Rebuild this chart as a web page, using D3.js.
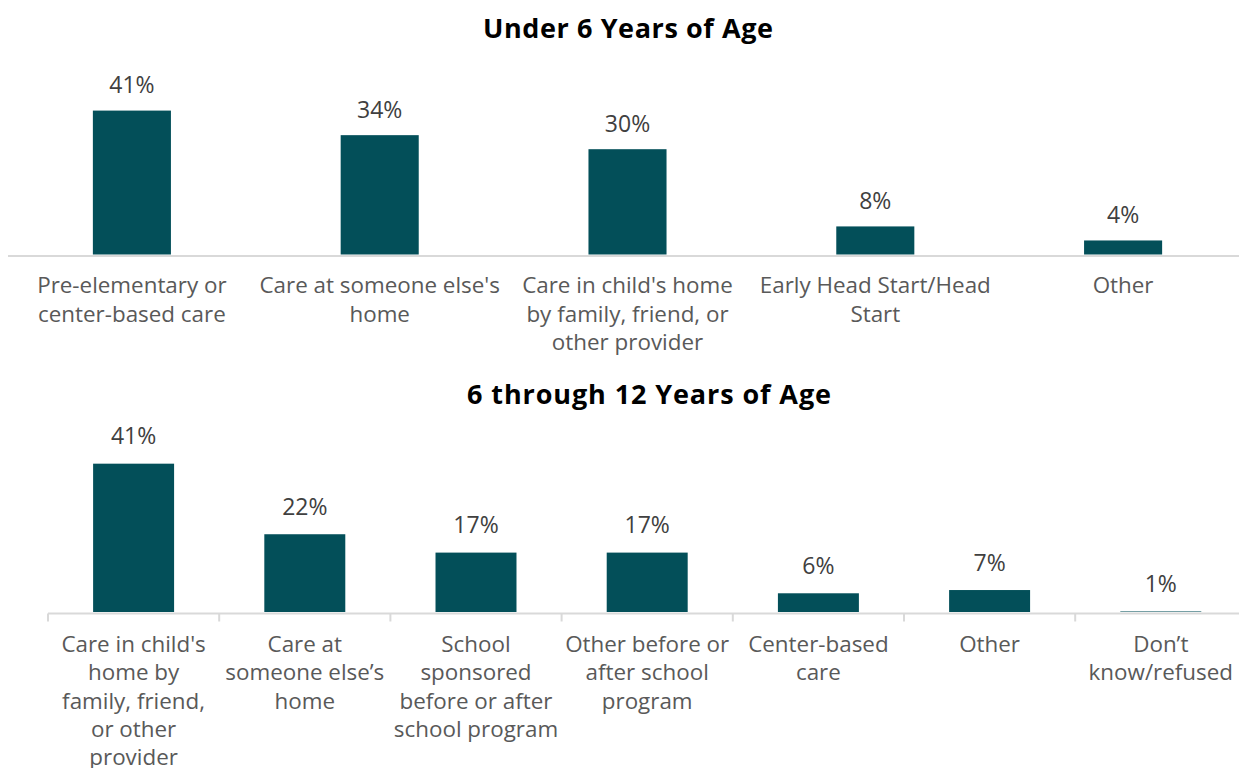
<!DOCTYPE html>
<html>
<head>
<meta charset="utf-8">
<script src="https://cdn.jsdelivr.net/npm/d3@7"></script>
<style>
  html, body { margin: 0; padding: 0; background: #fff; }
  svg { display: block; }
  text { font-family: "Open Sans", "Noto Sans", sans-serif; }
</style>
</head>
<body>
<svg id="chart" width="1239" height="768"></svg>
<script>
// ---- Data ----
const titleTop = "Under 6 Years of Age";
const categoriesTop = [
  "Pre-elementary or\ncenter-based care",
  "Care at someone else's\nhome",
  "Care in child's home\nby family, friend, or\nother provider",
  "Early Head Start/Head\nStart",
  "Other"
];
const valuesTop = [41, 34, 30, 8, 4];
const labelsTop = ["41%", "34%", "30%", "8%", "4%"];

const titleBottom = "6 through 12 Years of Age";
const categoriesBottom = [
  "Care in child's\nhome by\nfamily, friend,\nor other\nprovider",
  "Care at\nsomeone else\u2019s\nhome",
  "School\nsponsored\nbefore or after\nschool program",
  "Other before or\nafter school\nprogram",
  "Center-based\ncare",
  "Other",
  "Don\u2019t\nknow/refused"
];
const valuesBottom = [41.2, 21.6, 16.5, 16.5, 5.2, 6.1, 0.15];
const labelsBottom = ["41%", "22%", "17%", "17%", "6%", "7%", "1%"];

// ---- Drawing ----
const svg = d3.select("#chart");
const BAR = "#034f59";
const AXIS = "#d9d9d9";
const VAL = "#404040";
const CAT = "#595959";

function panel(opts) {
  const g = svg.append("g");
  const x = d3.scaleBand().domain(opts.categories).range(opts.xRange).padding(0);
  const y = d3.scaleLinear().domain([0, 45]).range([opts.base, opts.base - 45 * opts.k]);
  const bw = x.step() * opts.barFrac;

  g.append("text")
    .attr("x", opts.titleX).attr("y", opts.titleY)
    .attr("text-anchor", "middle")
    .attr("font-size", 27).attr("font-weight", "bold").attr("fill", "#000")
    .attr("textLength", opts.titleW).attr("lengthAdjust", "spacing")
    .text(opts.title);

  g.selectAll("rect.bar").data(opts.values).join("rect")
    .attr("class", "bar")
    .attr("x", (d, i) => x(opts.categories[i]) + x.bandwidth() / 2 - bw / 2)
    .attr("width", bw)
    .attr("y", d => y(d))
    .attr("height", d => y(0) - y(d))
    .attr("fill", BAR);

  g.selectAll("text.val").data(opts.values).join("text")
    .attr("class", "val")
    .attr("x", (d, i) => x(opts.categories[i]) + x.bandwidth() / 2)
    .attr("y", d => y(d) - opts.labelGap)
    .attr("text-anchor", "middle")
    .attr("font-size", 23).attr("fill", VAL)
    .text((d, i) => opts.labels[i]);

  // axis
  const axis = d3.axisBottom(x).tickSize(0).tickFormat("");
  const ag = g.append("g").attr("transform", `translate(0,${opts.axisY})`).call(axis);
  ag.select(".domain").remove();
  g.append("line")
    .attr("x1", opts.axisStart).attr("x2", 1239)
    .attr("y1", opts.axisY).attr("y2", opts.axisY)
    .attr("stroke", AXIS).attr("stroke-width", 2);
  if (opts.ticks) {
    const bounds = opts.categories.map(c => x(c));
    g.selectAll("line.tick").data(bounds).join("line")
      .attr("class", "tick")
      .attr("x1", d => d).attr("x2", d => d)
      .attr("y1", opts.axisY).attr("y2", opts.axisY + 8)
      .attr("stroke", AXIS).attr("stroke-width", 2);
  }

  const cl = g.selectAll("text.cat").data(opts.categories).join("text")
    .attr("class", "cat")
    .attr("text-anchor", "middle")
    .attr("font-size", 22.4).attr("fill", CAT);
  cl.each(function (c) {
    const t = d3.select(this);
    c.split("\n").forEach((line, j) => {
      t.append("tspan")
        .attr("x", x(c) + x.bandwidth() / 2)
        .attr("y", opts.catY + j * 28.4)
        .text(line);
    });
  });
}

panel({
  title: titleTop, titleX: 628, titleY: 37.5, titleW: 290,
  categories: categoriesTop, values: valuesTop, labels: labelsTop,
  xRange: [8, 1247], base: 254.5, k: 3.51, barFrac: 0.315, labelGap: 17.5,
  axisY: 256, axisStart: 8, ticks: false, catY: 293.3
});
panel({
  title: titleBottom, titleX: 649, titleY: 403.5, titleW: 364,
  categories: categoriesBottom, values: valuesBottom, labels: labelsBottom,
  xRange: [48, 1246.4], base: 612, k: 3.6, barFrac: 0.473, labelGap: 19.5,
  axisY: 613.5, axisStart: 48, ticks: true, catY: 651.7
});
</script>
</body>
</html>
